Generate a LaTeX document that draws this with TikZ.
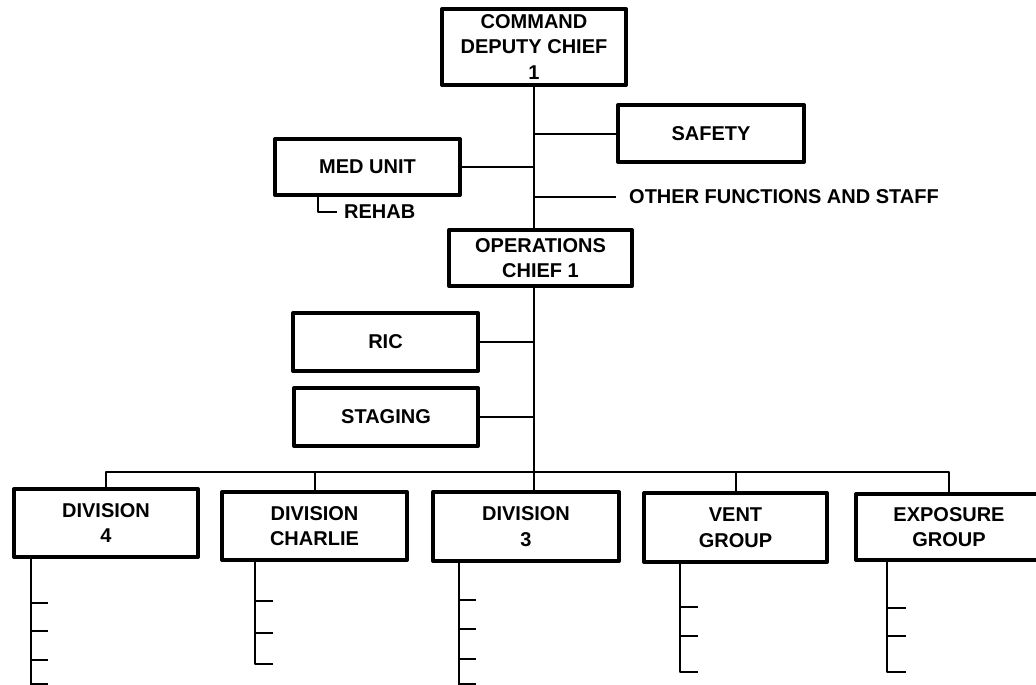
\documentclass[tikz,border=0pt]{standalone}
\usepackage{fontspec}
\setmainfont{Liberation Sans}
\begin{document}
\begin{tikzpicture}[x=1pt, y=-1pt, line join=round,
		font=\fontsize{20}{25.5}\selectfont\bfseries,
		box/.style={draw, line width=4, align=center, inner sep=0, minimum width=185, minimum height=57},
		thin/.style={line width=2}]
	\useasboundingbox (0,0) rectangle (1036,685);
	% Command staff
	\node[box, minimum width=184, minimum height=76] (cmd) at (534,47) {COMMAND\\DEPUTY CHIEF\\1};
	\node[box, minimum width=186] (safety) at (711,133.5) {SAFETY};
	\node[box, minimum height=56] (med) at (367.5,167) {MED UNIT};
	\node[anchor=west, inner xsep=13, inner ysep=0] (other) at (616,197) {OTHER FUNCTIONS AND STAFF};
	\node[anchor=west, inner xsep=7, inner ysep=0] (rehab) at (337,212) {REHAB};
	% Operations
	\node[box, minimum width=183, minimum height=56] (ops) at (540.5,258) {OPERATIONS\\CHIEF 1};
	\node[box, minimum height=58] (ric) at (385.5,342) {RIC};
	\node[box, minimum width=184, minimum height=58] (staging) at (386,417) {STAGING};
	% Divisions and groups
	\node[box, minimum width=184, minimum height=68] (div4) at (106,523) {DIVISION\\4};
	\node[box, minimum height=68] (charlie) at (314.5,526) {DIVISION\\CHARLIE};
	\node[box, minimum width=186, minimum height=69] (div3) at (526,526.5) {DIVISION\\3};
	\node[box, minimum width=183, minimum height=69] (vent) at (735.5,527.5) {VENT\\GROUP};
	\node[box, minimum width=186, minimum height=66] (exposure) at (949,527) {EXPOSURE\\GROUP};
	\coordinate (bus) at (0,472);

	\draw[thin] (cmd.south) -- (cmd.south |- ops.north);
	\draw[thin] (cmd.south |- safety.west) -- (safety.west);
	\draw[thin] (med.east) -- (cmd.south |- med.east);
	\draw[thin] (cmd.south |- other.west) -- (other.west);
	\draw[thin] ([xshift=-49.5]med.south) |- (rehab.west);
	\draw[thin] (cmd.south |- ops.south) -- (cmd.south |- div3.north);
	\draw[thin] (ric.east) -- (ric.east -| cmd.south);
	\draw[thin] (staging.east) -- (staging.east -| cmd.south);
	\draw[thin] (div4.north) |- (exposure.north |- bus) -- (exposure.north);
	\foreach \d in {charlie,vent} \draw[thin] (\d.north) -- (\d.north |- bus);

	% sub-units under each box
	\draw[thin] ([xshift=19]div4.south west) coordinate (d4) -- ++(0,135);
	\foreach \y in {44,72,101,125} \draw[thin] (d4) ++(0,\y) -- ++(17,0);
	\draw[thin] ([xshift=35]charlie.south west) coordinate (dc) -- ++(0,102) -- ++(18,0);
	\foreach \y in {39,71} \draw[thin] (dc) ++(0,\y) -- ++(18,0);
	\draw[thin] ([xshift=28]div3.south west) coordinate (d3) -- ++(0,130);
	\foreach \y in {37,66,96,121} \draw[thin] (d3) ++(0,\y) -- ++(17,0);
	\draw[thin] ([xshift=38]vent.south west) coordinate (vg) -- ++(0,108) -- ++(18,0);
	\foreach \y in {43,72} \draw[thin] (vg) ++(0,\y) -- ++(18,0);
	\draw[thin] ([xshift=33]exposure.south west) coordinate (eg) -- ++(0,110) -- ++(19,0);
	\foreach \y in {46,74} \draw[thin] (eg) ++(0,\y) -- ++(19,0);
\end{tikzpicture}
\end{document}
